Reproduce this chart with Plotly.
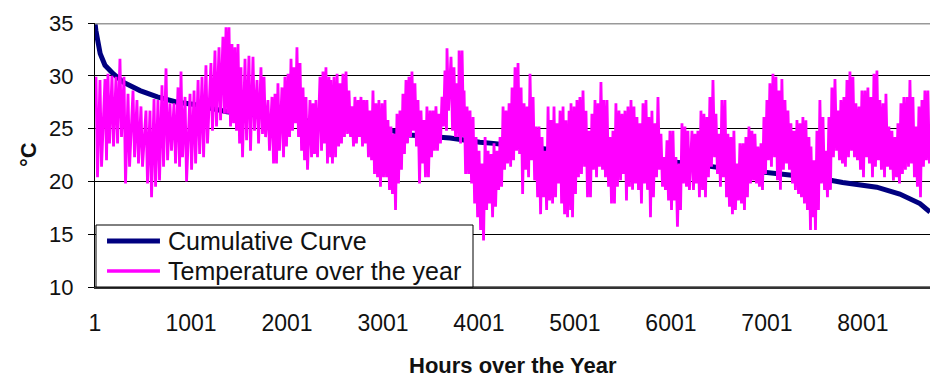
import plotly.graph_objects as go

# ---------------- data ----------------
x_tick_vals = [1, 1001, 2001, 3001, 4001, 5001, 6001, 7001, 8001]
x_tick_text = ["1", "1001", "2001", "3001", "4001", "5001", "6001", "7001", "8001"]
y_tick_vals = [10, 15, 20, 25, 30, 35]

# Cumulative (sorted) curve
cum_hours = [1, 10, 55, 105, 190, 295, 470, 650, 855, 1020, 1375, 1840, 3100, 3280,
             3700, 4010, 4150, 4670, 5920, 6080, 6470, 7135, 7550, 7790, 8145, 8385,
             8595, 8700]
cum_temp = [35.0, 34.3, 32.1, 31.0, 30.2, 29.4, 28.6, 28.0, 27.5, 27.3, 26.6, 26.1,
            24.8, 24.4, 24.1, 23.7, 23.6, 23.1, 22.0, 21.8, 21.35, 20.75, 20.3, 19.9,
            19.45, 18.8, 17.9, 17.1]

# Temperature over the year: daily highs / lows
sample_hours = [
    11, 53, 105, 136, 178, 220, 261, 303, 345, 397, 438, 480, 532, 574, 616, 657, 699,
    741, 782, 824, 866, 897, 939, 991, 1033, 1075, 1116, 1157,
    1209, 1251, 1293, 1334, 1366, 1397, 1428, 1459, 1491, 1522, 1564, 1605, 1647, 1689,
    1730, 1762, 1803, 1845, 1876, 1907, 1949, 1980, 2012, 2043, 2074, 2105, 2137, 2168,
    2199, 2241, 2272, 2303, 2345, 2376, 2407, 2439,
    2459, 2491, 2523, 2553, 2584, 2616, 2647, 2678, 2709, 2741, 2772, 2803, 2834, 2866,
    2897, 2928, 2959, 2991, 3022, 3053, 3084, 3116, 3147, 3178, 3209, 3241, 3272, 3303,
    3334, 3366, 3397, 3428, 3459, 3491, 3522, 3553, 3584, 3616, 3647, 3668,
    3710, 3741, 3773, 3794, 3825, 3846, 3877, 3908, 3940, 3971, 4002, 4033, 4065, 4096,
    4127, 4158, 4190, 4221, 4252, 4283, 4315, 4346, 4377, 4408, 4440, 4471, 4502, 4533,
    4565, 4596, 4627, 4658, 4690, 4721, 4752, 4783, 4815, 4846, 4877, 4908, 4940,
    4960, 4991, 5022, 5053, 5085, 5116, 5147, 5178, 5210, 5241, 5272, 5303, 5335, 5366,
    5397, 5428, 5460, 5491, 5522, 5553, 5585, 5616, 5647, 5678, 5710, 5741, 5772, 5803,
    5835, 5866, 5897, 5928, 5960, 5991, 6022, 6053, 6085, 6116, 6147, 6178,
    6220, 6251, 6282, 6314, 6345, 6376, 6407, 6439, 6470, 6501, 6532, 6564, 6595, 6626,
    6657, 6689, 6720, 6751, 6782, 6814, 6845, 6876, 6907, 6939, 6970, 7001, 7032, 7064,
    7095, 7126, 7157, 7189, 7220, 7251, 7282, 7314, 7345, 7376, 7407, 7439,
    7460, 7491, 7522, 7553, 7585, 7616, 7647, 7678, 7710, 7741, 7772, 7803, 7835, 7866,
    7897, 7928, 7960, 7991, 8022, 8053, 8085, 8116, 8147, 8178, 8210, 8241, 8272, 8303,
    8335, 8366, 8397, 8428, 8460, 8491, 8522, 8553, 8585, 8616, 8647, 8678,
]
daily_high = [
    29.9, 29.6, 29.7, 30.2, 30.0, 29.9, 31.6, 29.9, 28.3, 28.6, 27.7, 27.1, 26.7, 26.7,
    27.8, 27.7, 29.1, 30.7, 27.4, 27.4, 28.9, 30.4, 28.0, 28.3, 28.6, 29.6, 29.9, 31.0,
    31.2, 32.4, 32.7, 33.7, 34.6, 34.6, 33.0, 32.7, 33.0, 30.8, 31.6, 31.9, 31.8, 29.6,
    30.8, 29.9, 27.7, 28.0, 28.3, 29.3, 28.9, 29.9, 30.2, 31.6, 30.8, 32.7, 31.2, 28.9,
    28.0, 27.7, 27.4, 27.7, 29.9, 30.4, 30.8, 29.9,
    29.6, 29.9, 30.2, 29.3, 30.2, 30.4, 28.6, 27.1, 28.0, 27.7, 28.0, 27.7, 27.7, 26.7,
    28.6, 27.4, 27.7, 27.4, 27.7, 25.8, 25.2, 24.5, 26.4, 26.7, 28.3, 29.6, 29.9, 30.4,
    29.3, 27.7, 26.7, 25.8, 27.1, 26.7, 26.7, 27.1, 26.4, 28.0, 30.5, 32.6,
    31.8, 30.8, 29.3, 32.4, 32.4, 28.6, 27.1, 26.7, 26.1, 24.2, 22.9, 21.7, 24.2, 22.9,
    22.6, 23.6, 22.9, 24.2, 27.1, 26.7, 27.4, 28.9, 30.8, 31.2, 28.9, 27.4, 27.1, 30.2,
    28.0, 25.2, 25.2, 24.2, 22.9, 27.1, 25.8, 27.1, 25.5, 26.7, 27.1, 25.8, 26.7,
    27.4, 27.1, 27.7, 28.0, 28.6, 26.7, 24.8, 26.4, 27.7, 27.4, 29.4, 27.7, 27.7, 24.2,
    24.8, 27.4, 26.7, 26.4, 26.7, 27.1, 27.7, 27.1, 26.1, 25.5, 27.4, 27.7, 26.1, 26.7,
    25.5, 28.0, 24.5, 22.3, 23.9, 24.8, 24.8, 22.3, 21.7, 25.5, 25.2, 24.8,
    24.8, 24.5, 24.8, 26.7, 26.4, 26.1, 28.0, 29.6, 26.4, 24.5, 27.7, 27.7, 24.5, 24.2,
    24.8, 21.7, 23.6, 23.6, 24.2, 25.2, 24.8, 24.5, 23.3, 23.6, 26.1, 27.7, 29.3, 30.2,
    29.9, 28.6, 29.7, 27.7, 26.7, 25.5, 24.8, 25.8, 25.5, 26.1, 25.8, 24.2,
    23.3, 22.0, 24.8, 27.7, 26.1, 22.9, 26.1, 28.9, 29.7, 26.7, 27.7, 28.0, 29.6, 30.4,
    29.9, 27.4, 27.1, 28.6, 28.6, 28.9, 28.0, 30.2, 30.5, 27.7, 27.4, 28.3, 25.2, 24.8,
    24.2, 25.5, 27.4, 28.0, 28.0, 29.6, 28.0, 25.2, 27.1, 27.7, 28.6, 28.6,
]
daily_low = [
    20.4, 21.4, 22.0, 23.6, 23.3, 23.6, 24.2, 19.8, 21.4, 22.3, 21.7, 21.4, 19.8, 18.5,
    19.5, 20.1, 21.4, 22.0, 22.9, 21.7, 21.4, 22.3, 20.0, 21.1, 21.7, 22.6, 22.3, 23.6,
    24.8, 25.2, 25.8, 26.4, 26.4, 25.2, 25.5, 24.8, 23.6, 22.3, 23.9, 22.9, 24.8, 23.6,
    24.5, 24.2, 22.9, 21.7, 21.7, 22.9, 22.3, 23.3, 24.2, 24.8, 25.5, 24.2, 22.9, 22.0,
    21.1, 22.3, 22.6, 22.3, 22.9, 23.6, 21.7, 22.3,
    21.7, 22.3, 23.3, 23.6, 24.2, 24.5, 24.2, 23.3, 23.6, 24.2, 23.3, 23.6, 22.3, 22.0,
    20.7, 20.4, 19.5, 20.4, 20.4, 19.2, 18.8, 17.3, 19.8, 21.1, 22.6, 23.6, 24.2, 24.8,
    23.3, 19.8, 21.7, 20.4, 20.4, 22.3, 22.9, 22.9, 23.6, 25.2, 24.8, 26.7,
    24.8, 24.2, 24.2, 23.6, 24.2, 20.7, 20.7, 19.8, 17.9, 16.6, 15.4, 14.4, 17.3, 17.9,
    16.6, 17.6, 19.2, 19.5, 21.1, 21.7, 21.4, 22.0, 22.9, 22.6, 18.8, 21.1, 20.4, 22.0,
    20.1, 18.5, 16.9, 18.5, 17.3, 18.2, 17.9, 18.5, 19.8, 17.9, 16.9, 16.6, 17.3,
    16.6, 18.8, 20.4, 20.7, 21.4, 18.5, 18.5, 21.1, 20.4, 21.4, 21.1, 20.4, 19.5, 17.9,
    17.9, 19.5, 20.1, 20.7, 18.2, 19.5, 19.2, 19.8, 19.2, 17.9, 19.8, 19.2, 16.6, 18.5,
    20.4, 21.1, 19.5, 19.2, 18.2, 17.3, 18.2, 15.7, 17.3, 19.8, 19.5, 19.2,
    19.2, 19.8, 18.5, 19.2, 18.5, 20.4, 21.4, 22.3, 20.7, 19.5, 20.4, 18.5, 17.6, 16.9,
    17.3, 18.2, 17.9, 17.3, 18.5, 19.8, 20.1, 19.8, 19.5, 19.2, 20.7, 22.0, 21.4, 22.3,
    20.1, 19.2, 21.1, 21.7, 21.1, 19.8, 19.2, 18.8, 18.5, 17.9, 17.3, 15.4,
    16.6, 15.4, 17.3, 19.8, 19.2, 18.5, 19.2, 22.3, 22.9, 22.0, 21.7, 21.4, 22.3, 22.9,
    22.3, 22.0, 21.1, 20.4, 22.3, 21.7, 20.4, 21.4, 22.0, 21.1, 20.4, 21.4, 21.1, 20.1,
    20.4, 19.8, 20.7, 21.1, 21.4, 21.7, 20.4, 19.5, 18.5, 21.4, 22.0, 21.7,
]
low_lag_hours = 16  # the daily low follows the high by roughly half a sample step

# ---------------- build the trace (high then low for each sample) ----------------
temp_x, temp_y = [], []
for h, hi, lo in zip(sample_hours, daily_high, daily_low):
    temp_x += [h, h + low_lag_hours]
    temp_y += [hi, lo]

FONT = "Liberation Sans, Arial, sans-serif"
TXT = "#111111"
NAVY = "#000080"
MAGENTA = "#FF00FF"

fig = go.Figure()
fig.add_trace(go.Scatter(x=cum_hours, y=cum_temp, mode="lines", name="Cumulative Curve",
                         line=dict(color=NAVY, width=5), showlegend=False))
fig.add_trace(go.Scatter(x=temp_x, y=temp_y, mode="lines", name="Temperature over the year",
                         line=dict(color=MAGENTA, width=2.8), showlegend=False))

fig.update_layout(
    width=930, height=378,
    margin=dict(l=95, r=0, t=23, b=91, autoexpand=False),
    paper_bgcolor="white", plot_bgcolor="white",
    font=dict(family=FONT, color=TXT),
    xaxis=dict(range=[1, 8700], tickvals=x_tick_vals, ticktext=x_tick_text,
               showgrid=False, zeroline=False, ticks="", showline=True,
               linecolor="#333333", linewidth=2, automargin=False,
               tickfont=dict(size=23, family=FONT, color=TXT), ticklabelstandoff=14),
    yaxis=dict(range=[10, 35], tickvals=y_tick_vals, showgrid=True, gridcolor="#000000",
               gridwidth=1, zeroline=False, showline=True, linecolor="#000000", linewidth=1,
               ticks="outside", ticklen=6, tickcolor="#000000", tickwidth=1, automargin=False,
               tickfont=dict(size=22, family=FONT, color=TXT), ticklabelstandoff=10),
)

# axis titles
fig.add_annotation(xref="paper", yref="paper", x=0.5, y=-0.299, xanchor="center", yanchor="middle",
                   text="<b>Hours over the Year</b>", showarrow=False,
                   font=dict(size=22, family=FONT, color=TXT))
fig.add_annotation(xref="paper", yref="paper", x=-0.0802, y=0.5, xanchor="center", yanchor="middle",
                   text="<b>°C</b>", textangle=-90, showarrow=False,
                   font=dict(size=22, family=FONT, color=TXT))

# plot-area border lines (grey top line, grey bottom line)
fig.add_shape(type="line", xref="paper", yref="y", x0=0, x1=1, y0=35, y1=35,
              line=dict(color="#999999", width=3), layer="above")
fig.add_shape(type="line", xref="paper", yref="y", x0=0, x1=1, y0=10, y1=10,
              line=dict(color="#777777", width=2), layer="above")

# manual legend
fig.add_shape(type="rect", xref="paper", yref="paper", x0=0.0012, x1=0.4527, y0=0.0, y1=0.2348,
              fillcolor="white", line=dict(color="#000000", width=1), layer="above")
fig.add_shape(type="line", xref="paper", yref="paper", x0=0.0144, x1=0.0778, y0=0.1742, y1=0.1742,
              line=dict(color=NAVY, width=5), layer="above")
fig.add_shape(type="line", xref="paper", yref="paper", x0=0.0144, x1=0.0778, y0=0.0606, y1=0.0606,
              line=dict(color=MAGENTA, width=3.5), layer="above")
fig.add_annotation(xref="paper", yref="paper", x=0.085, y=0.1742, xanchor="left", yanchor="middle",
                   text="Cumulative Curve", showarrow=False, font=dict(size=25, family=FONT, color=TXT))
fig.add_annotation(xref="paper", yref="paper", x=0.085, y=0.0606, xanchor="left", yanchor="middle",
                   text="Temperature over the year", showarrow=False,
                   font=dict(size=25, family=FONT, color=TXT))

# remove the page's default body margin so the 930x378 figure fills the window exactly
fig.write_html("out.html", config={"displayModeBar": False},
               post_script="document.body.style.margin='0';")
